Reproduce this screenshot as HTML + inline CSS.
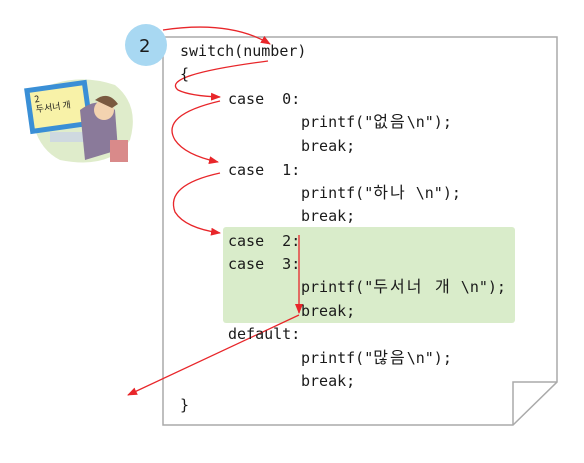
<!DOCTYPE html>
<html><head><meta charset="utf-8"><style>
body{margin:0;width:584px;height:463px;background:#fff;overflow:hidden;position:relative}
.t{position:absolute;font:15px "DejaVu Sans Mono","Noto Sans CJK KR",monospace;color:#1a1a1a;white-space:pre;line-height:18px}
.k{font-size:16px;letter-spacing:2px}
</style></head><body>
<svg width="584" height="463" style="position:absolute;left:0;top:0">
<defs><marker id="a" markerWidth="10" markerHeight="8" refX="9" refY="4" orient="auto" markerUnits="userSpaceOnUse"><path d="M0,0 L10,4 L0,8 z" fill="#e8262a"/></marker></defs>
<path d="M163,37 H557 V382 L513,425 H163 Z" fill="#fff" stroke="#aaa" stroke-width="1.5"/>
<path d="M557,382 H513 V425" fill="none" stroke="#aaa" stroke-width="1.5"/>
<rect x="223" y="227" width="292" height="96" rx="3" fill="#d9ecca"/>
<circle cx="146" cy="45" r="21" fill="#a8d8f2"/>
<path d="M30,95 Q70,70 115,85 Q140,105 130,140 Q110,170 60,160 Q30,145 30,95Z" fill="#dfeccb"/>
<rect x="27" y="84" width="63" height="46" fill="#3a8fd6" transform="rotate(-8 58 107)"/>
<rect x="32" y="89" width="53" height="36" fill="#f8f2a8" transform="rotate(-8 58 107)"/>
<rect x="50" y="132" width="40" height="10" fill="#cfd9e0"/>
<path d="M80,110 Q100,95 115,110 L118,150 L85,160 Z" fill="#8a7a9a"/>
<circle cx="104" cy="110" r="10" fill="#f3d3b0"/>
<path d="M95,100 Q108,90 118,104 L112,108 Z" fill="#7a5a40"/>
<rect x="110" y="140" width="18" height="22" fill="#d98a8a"/>
<g fill="none" stroke="#e8262a" stroke-width="1.3">
<path d="M163,30 Q230,20 270,44" marker-end="url(#a)"/>
<path d="M268,61 Q160,75 178,90 Q190,96 220,97" marker-end="url(#a)"/>
<path d="M220,101 Q160,115 175,140 Q185,155 218,162" marker-end="url(#a)"/>
<path d="M220,173 Q165,185 175,212 Q185,228 220,233" marker-end="url(#a)"/>
<path d="M299,235 V313" marker-end="url(#a)"/>
<path d="M299,315 L128,395" marker-end="url(#a)"/>
</g>
</svg>
<div class="t" style="left:139px;top:36px;font:18px 'DejaVu Sans',sans-serif">2</div>
<div class="t" style="left:35px;top:92px;font:9px 'Noto Sans CJK KR',sans-serif;line-height:10px;transform:rotate(-8deg)">2
두서너 개</div>
<div class="t" style="left:180px;top:42px">switch(number)</div>
<div class="t" style="left:180px;top:65px">{</div>
<div class="t" style="left:228px;top:90px">case  0:</div>
<div class="t" style="left:301px;top:113px">printf("<span class="k">없음</span>\n");</div>
<div class="t" style="left:301px;top:137px">break;</div>
<div class="t" style="left:228px;top:161px">case  1:</div>
<div class="t" style="left:301px;top:184px">printf("<span class="k">하나</span> \n");</div>
<div class="t" style="left:301px;top:207px">break;</div>
<div class="t" style="left:228px;top:232px">case  2:</div>
<div class="t" style="left:228px;top:255px">case  3:</div>
<div class="t" style="left:301px;top:278px">printf("<span class="k">두서너 개</span> \n");</div>
<div class="t" style="left:301px;top:302px">break;</div>
<div class="t" style="left:228px;top:325px">default:</div>
<div class="t" style="left:301px;top:349px">printf("<span class="k">많음</span>\n");</div>
<div class="t" style="left:301px;top:372px">break;</div>
<div class="t" style="left:180px;top:396px">}</div>
</body></html>
